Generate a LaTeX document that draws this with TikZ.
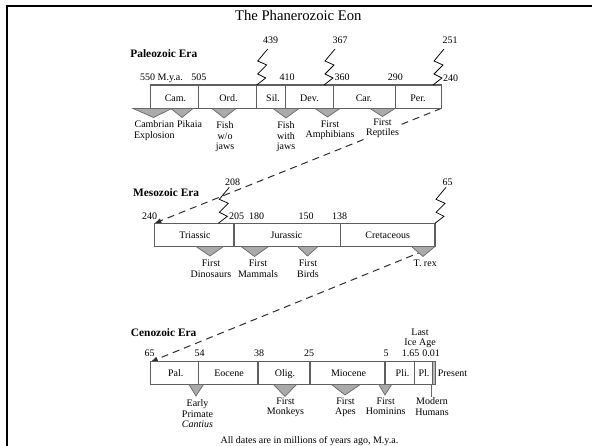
\documentclass[tikz,border=0pt]{standalone}
\usepackage{fontspec}
\setmainfont{Liberation Serif}
\usetikzlibrary{arrows.meta}
\definecolor{barc}{RGB}{95,95,95}
\definecolor{trif}{RGB}{170,170,170}
\definecolor{tric}{RGB}{105,105,105}
\definecolor{dashc}{RGB}{45,45,45}
\tikzset{
 lab/.style={font=\fontsize{10}{10.3}\selectfont, inner sep=0pt, align=center, anchor=north},
 era/.style={font=\fontsize{11.4}{12}\selectfont\bfseries, inner sep=0pt, anchor=north west},
 barbox/.style={draw=barc, line width=1.1pt},
 evt/.style={fill=trif, draw=tric, line width=0.7pt, line join=miter},
 zz/.style={draw=black, line width=0.75pt},
 link/.style={draw=dashc, line width=1pt, dash pattern=on 7pt off 5pt, -{Latex[length=7pt,width=5pt]}},
 zig/.pic={\draw[zz] (0,0) -- (9,-7) -- (1,-11) -- (10,-20) -- (1,-24) -- (11,-36);}
}
\begin{document}
\begin{tikzpicture}[x=1pt,y=-1pt]
\useasboundingbox (0,0) rectangle (592,446);
\fill[white] (0,0) rectangle (592,446);
\draw[line width=2pt] (7,452) -- (7,6) -- (598,6);

\node[font=\fontsize{14.7}{16}\selectfont, inner sep=0pt, anchor=north] (title) at (298.3,9.9) {The Phanerozoic Eon};

% ---------- coordinates
\coordinate (pTL) at (150.7,85);  \coordinate (pBR) at (441.5,108.3);
\coordinate (mTL) at (154.3,223.3); \coordinate (mBR) at (435,246.3);
\coordinate (cTL) at (150.7,361.7); \coordinate (cBR) at (432.3,384.3);

% ---------- connectors between eras
\draw[link] (pBR) -- (mTL);
\draw[link] (mBR) -- (cTL);

% ---------- Paleozoic
\node[era] (paleo) at (130.2,49.2) {Paleozoic Era};
\draw[barbox] (pTL) rectangle (pBR);
\foreach \x in {198.7,256.7,285.7,333.3,395.7} \draw[barbox] (\x,85) -- (\x,108.3);
\coordinate (z439) at (256.7,85); \coordinate (z367) at (324,85); \coordinate (z251) at (433,85);
\pic at (z439) {zig}; \pic at (z367) {zig}; \pic at (z251) {zig};
\node[lab] (l439) at (270.5,36.6) {439};
\node[lab] (l367) at (340,36.6) {367};
\node[lab] (l251) at (450,36.6) {251};
\node[lab] (p550) at (161.5,73.3) {550 M.y.a.};
\node[lab] (p505) at (198.8,73.3) {505};
\node[lab] (p410) at (287,73.3) {410};
\node[lab] (p360) at (342,73.3) {360};
\node[lab] (p290) at (395.4,73.3) {290};
\node[lab] (p240) at (450.7,74.6) {240};
\node[lab] (cam) at (175.5,94.6) {Cam.};
\node[lab] (ord) at (228.5,94.6) {Ord.};
\node[lab] (sil) at (273,94.6) {Sil.};
\node[lab] (dev) at (309.5,94.6) {Dev.};
\node[lab] (car) at (364,94.6) {Car.};
\node[lab] (per) at (418,94.6) {Per.};
\draw[evt] (133,108.5) -- (172,108.5) -- (153.5,117.5) -- cycle;
\draw[evt] (171,108.5) -- (193,108.5) -- (182,117.5) -- cycle;
\draw[evt] (212,108.5) -- (236,108.5) -- (224,118) -- cycle;
\draw[evt] (273,108.5) -- (299,108.5) -- (286,118) -- cycle;
\draw[evt] (315,108.5) -- (340,108.5) -- (327.5,117) -- cycle;
\draw[evt] (370,108.5) -- (395,108.5) -- (382.5,116.5) -- cycle;
\node[lab] (e1) at (154.3,120.6) {Cambrian\\Explosion};
\node[lab] (e2) at (189.5,120.6) {Pikaia};
\node[lab] (e3) at (225,121.6) {Fish\\w/o\\jaws};
\node[lab] (e4) at (286,121.6) {Fish\\with\\jaws};
\node[lab] (e5) at (330,120.8) {First\\Amphibians};
\node[lab, fill=white, inner sep=0.6pt] (e6) at (382.5,118) {First\\Reptiles};

% ---------- Mesozoic
\node[era] (meso) at (132.8,188.7) {Mesozoic Era};
\draw[barbox] (mTL) rectangle (mBR);
\foreach \x in {234,340.7} \draw[barbox] (\x,223.3) -- (\x,246.3);
\coordinate (z208) at (218.3,223.3); \coordinate (z65) at (435,223.3);
\pic at (z208) {zig}; \pic at (z65) {zig};
\node[lab] (l208) at (232.5,178.3) {208};
\node[lab] (l65) at (447.5,178.6) {65};
\node[lab] (m240) at (149.7,212.3) {240};
\node[lab] (m205) at (236.5,212.3) {205};
\node[lab] (m180) at (256.7,212.3) {180};
\node[lab] (m150) at (306,212.3) {150};
\node[lab] (m138) at (339.5,212.3) {138};
\node[lab] (tri) at (195,231.6) {Triassic};
\node[lab] (jur) at (286.5,231.6) {Jurassic};
\node[lab] (cre) at (387.7,231.6) {Cretaceous};
\draw[evt] (196,246.5) -- (223.5,246.5) -- (210,256) -- cycle;
\draw[evt] (241,246.5) -- (268.5,246.5) -- (254.5,256.5) -- cycle;
\draw[evt] (297.5,246.5) -- (318,246.5) -- (307.5,256) -- cycle;
\draw[evt] (411.5,246.5) -- (435,246.5) -- (423,256.5) -- cycle;
\node[lab] (f1) at (211,259.9) {First\\Dinosaurs};
\node[lab] (f2) at (258,259.9) {First\\Mammals};
\node[lab] (f3) at (308,259.9) {First\\Birds};
\node[lab] (f4) at (425.2,259.9) {T. rex};

% ---------- Cenozoic
\node[era] (ceno) at (130.7,327.9) {Cenozoic Era};
\draw[barbox] (cTL) rectangle (cBR);
\foreach \x in {198.7,258,310,385,414.3} \draw[barbox] (\x,361.7) -- (\x,384.3);
\draw[barbox, fill=gray!55] (432.3,361.7) rectangle (435.7,384.3);
\node[lab, font=\fontsize{10}{9.4}\selectfont] (ice) at (420,329.1) {Last\\Ice Age};
\node[lab] (c65) at (149.5,349.9) {65};
\node[lab] (c54) at (199.5,349.9) {54};
\node[lab] (c38) at (259,349.9) {38};
\node[lab] (c25) at (309,349.9) {25};
\node[lab] (c5) at (386,349.9) {5};
\node[lab] (c165) at (410.6,349.9) {1.65};
\node[lab] (c001) at (431.2,349.9) {0.01};
\node[lab] (pal) at (175.8,369.3) {Pal.};
\node[lab] (eoc) at (229,369.3) {Eocene};
\node[lab] (oli) at (285,369.3) {Olig.};
\node[lab] (mio) at (348.5,369.3) {Miocene};
\node[lab] (pli) at (402.5,369.3) {Pli.};
\node[lab] (ple) at (424,369.3) {Pl.};
\node[lab] (pre) at (452.5,369.3) {Present};
\draw[evt] (189,384.5) -- (203.5,384.5) -- (196,396) -- cycle;
\draw[evt] (273.5,384.5) -- (296.5,384.5) -- (285,396.5) -- cycle;
\draw[evt] (331.5,384.5) -- (360.3,384.5) -- (345,395) -- cycle;
\draw[evt] (378.8,384.5) -- (391.7,384.5) -- (385,395) -- cycle;
\coordinate (hum) at (431.3,384.3);
\draw[draw=tric, line width=0.8pt] (hum) -- ++(0,12.4);
\node[lab] (g1) at (197.5,399.6) {Early\\Primate\\\textit{Cantius}};
\node[lab] (g2) at (285.5,397.6) {First\\Monkeys};
\node[lab] (g3) at (345.5,397.6) {First\\Apes};
\node[lab] (g4) at (385.7,397.6) {First\\Hominins};
\node[lab] (g5) at (432,397.6) {Modern\\Humans};

\node[lab] (foot) at (309.4,436.6) {All dates are in millions of years ago, M.y.a.};
\end{tikzpicture}
\end{document}
